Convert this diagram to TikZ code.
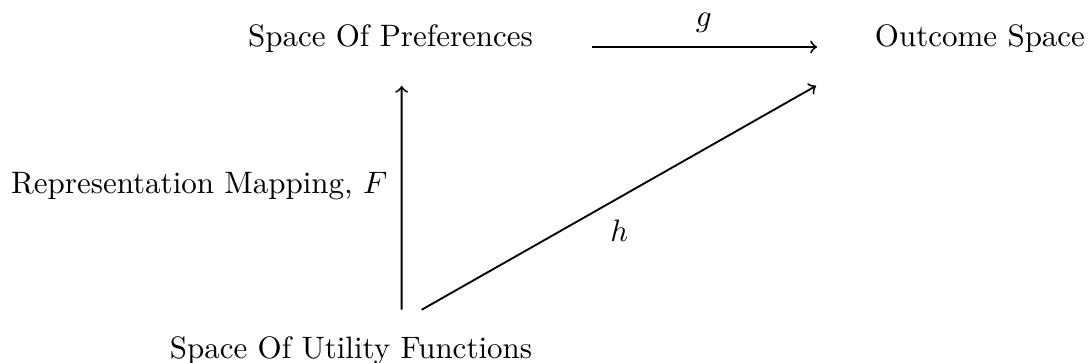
\documentclass[tikz,border=0pt]{standalone}
\usepackage{amsmath,amssymb}
\usepackage{tikz}
\usetikzlibrary{calc,arrows,positioning}

\begin{document}
\begin{tikzpicture}[semithick,
  spacenode/.style={inner sep=0pt,anchor=base}]
  \useasboundingbox (0,0) rectangle (12.338,4.116);
  \node[spacenode] (pref)    at (4.428,3.583) {Space Of Preferences};
  \node[spacenode] (outcome) at (11.113,3.583) {Outcome Space};
  \node[spacenode] (util)    at (3.980,0.045) {Space Of Utility Functions};
  % the three maps
  \draw[->,shorten <=6.6mm,shorten >=6.46mm] (pref.base east) -- (outcome.base west)
    node[midway,above=1pt] (glab) {$g$};
  \draw[->] ($(util.north)+(0.575,0.300)$) -- ($(pref.south)+(0.127,-0.362)$)
    node[pos=0.55,left=1pt] (flab) {Representation Mapping, $F$};
  \draw[->] ($(util.north)+(0.802,0.300)$) -- ($(outcome.south west)+(-0.657,-0.362)$)
    node[pos=0.45,below right] (hlab) {$h$};
\end{tikzpicture}
\end{document}
